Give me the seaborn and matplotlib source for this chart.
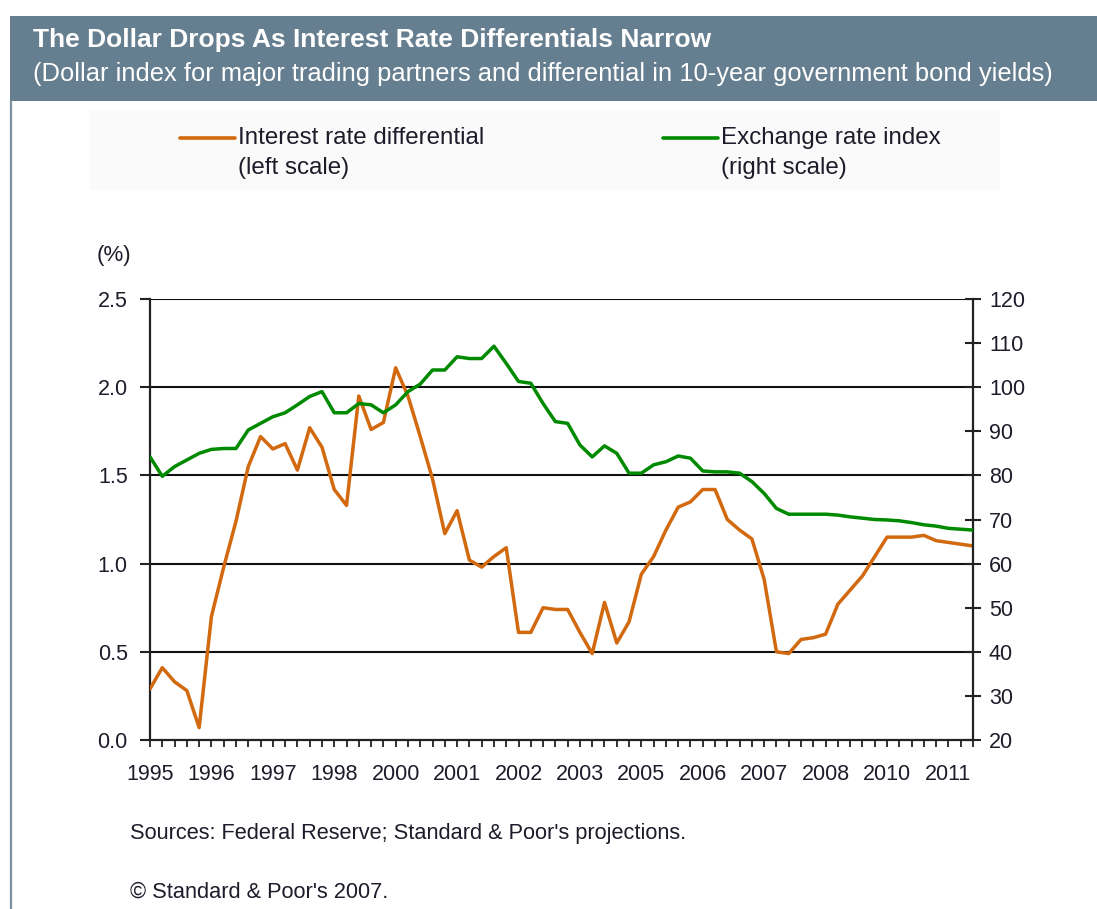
import numpy as np
import matplotlib
matplotlib.use("Agg")
import matplotlib.pyplot as plt
from matplotlib.patches import Rectangle
from matplotlib.lines import Line2D
import seaborn as sns

# ---------------- data (quarterly, 1995Q1 .. 2011Q4) ----------------
year_labels = ["1995", "1996", "1997", "1998", "2000", "2001", "2002",
               "2003", "2005", "2006", "2007", "2008", "2010", "2011"]
label_every = 5  # a year label every 5 quarters

rate_diff = [0.29, 0.41, 0.33, 0.28, 0.07, 0.70, 0.98, 1.24, 1.55, 1.72,
             1.65, 1.68, 1.53, 1.77, 1.66, 1.42, 1.33, 1.95, 1.76, 1.80,
             2.11, 1.95, 1.72, 1.48, 1.17, 1.30, 1.02, 0.98, 1.04, 1.09,
             0.61, 0.61, 0.75, 0.74, 0.74, 0.61, 0.49, 0.78, 0.55, 0.67,
             0.94, 1.04, 1.19, 1.32, 1.35, 1.42, 1.42, 1.25, 1.19, 1.14,
             0.91, 0.50, 0.49, 0.57, 0.58, 0.60, 0.77, 0.85, 0.93, 1.04,
             1.15, 1.15, 1.15, 1.16, 1.13, 1.12, 1.11, 1.10]

fx_index = [84.2, 79.8, 82.0, 83.5, 85.0, 85.9, 86.1, 86.1, 90.3, 91.8,
            93.3, 94.2, 96.0, 97.9, 99.0, 94.2, 94.2, 96.3, 96.0, 94.2,
            96.0, 99.0, 100.7, 103.9, 103.9, 106.9, 106.5, 106.5, 109.3, 105.4,
            101.3, 100.9, 96.3, 92.2, 91.8, 86.9, 84.2, 86.7, 85.0, 80.5,
            80.5, 82.4, 83.1, 84.4, 83.9, 81.0, 80.8, 80.8, 80.5, 78.6,
            75.9, 72.5, 71.2, 71.2, 71.2, 71.2, 71.0, 70.6, 70.3, 70.0,
            69.9, 69.7, 69.3, 68.8, 68.5, 68.0, 67.8, 67.6]

left_ticks = [0.0, 0.5, 1.0, 1.5, 2.0, 2.5]
right_ticks = [20, 30, 40, 50, 60, 70, 80, 90, 100, 110, 120]

title = "The Dollar Drops As Interest Rate Differentials Narrow"
subtitle = "(Dollar index for major trading partners and differential in 10-year government bond yields)"
legend_labels = [("Interest rate differential", "(left scale)"),
                 ("Exchange rate index", "(right scale)")]
source_text = "Sources: Federal Reserve; Standard & Poor's projections."
copyright_text = "\u00a9 Standard & Poor's 2007."

# ---------------- style ----------------
ORANGE = "#D2690E"
GREEN = "#008A00"
HEADER = "#667F90"
TXT = "#1c1c2a"
TICK_FS = 15.5

sns.set_theme(style="white")
plt.rcParams["font.family"] = ["Liberation Sans", "DejaVu Sans"]

W, H = 1097, 909
fig = plt.figure(figsize=(W / 100, H / 100), dpi=100)
fig.patch.set_facecolor("white")

def fx(px):
    return px / W

def fy(py):
    return 1 - py / H

# header band and left border
fig.add_artist(Rectangle((fx(10), fy(101)), fx(1097) - fx(10), fy(16) - fy(101),
                         transform=fig.transFigure, facecolor=HEADER,
                         edgecolor="none", zorder=0))
fig.add_artist(Line2D([fx(11), fx(11)], [fy(101), fy(909)], transform=fig.transFigure,
                      color="#7d909f", lw=1.6))
fig.text(fx(33), fy(40), title, color="white", fontsize=19, fontweight="bold",
         va="center", ha="left")
fig.text(fx(33), fy(74), subtitle, color="white", fontsize=18.4,
         va="center", ha="left")

# legend background
fig.add_artist(Rectangle((fx(90), fy(190)), fx(1000) - fx(90), fy(110) - fy(190),
                         transform=fig.transFigure, facecolor="#FAFAFA",
                         edgecolor="none", zorder=0))

# ---------------- axes ----------------
ax = fig.add_axes([fx(150), fy(740), fx(973) - fx(150), fy(299) - fy(740)])
ax.set_facecolor("white")
x = np.arange(len(rate_diff))

ax.set_ylim(0, 2.5)
ax.set_xlim(0, len(rate_diff) - 1)
ax.set_yticks(left_ticks)
ax.set_yticklabels([f"{v:.1f}" for v in left_ticks])
for v in left_ticks[1:]:
    ax.axhline(v, color="#111111", lw=1.5, zorder=1)

sns.lineplot(x=x, y=rate_diff, ax=ax, color=ORANGE, linewidth=2.5, zorder=3)

ax2 = ax.twinx()
sns.lineplot(x=x, y=fx_index, ax=ax2, color=GREEN, linewidth=2.5, zorder=3)
ax2.set_ylim(20, 120)
ax2.set_yticks(right_ticks)
ax2.set_yticklabels([str(v) for v in right_ticks])
ax2.set_xlim(0, len(rate_diff) - 1)

# x ticks: one per quarter, labels every 5 quarters
ax.set_xticks(x)
xt = [""] * len(x)
for k, lab in enumerate(year_labels):
    xt[k * label_every] = lab
ax.set_xticklabels(xt)

for a in (ax, ax2):
    a.set_xlabel("")
    a.set_ylabel("")
    for s in a.spines.values():
        s.set_visible(False)

ax.spines["left"].set_visible(True)
ax.spines["bottom"].set_visible(True)
ax2.spines["right"].set_visible(True)
for s in (ax.spines["left"], ax.spines["bottom"], ax2.spines["right"]):
    s.set_color("#222222")
    s.set_linewidth(1.6)

ax.tick_params(axis="y", which="major", direction="out", length=7, width=1.5,
               color="#222222", pad=9, labelsize=TICK_FS, labelcolor=TXT,
               left=True, right=False)
ax.tick_params(axis="x", which="major", direction="out", length=5, width=1.3,
               color="#222222", pad=12, labelsize=TICK_FS, labelcolor=TXT,
               bottom=True, top=False)
ax2.tick_params(axis="y", which="major", direction="inout", length=11, width=1.5,
                color="#222222", pad=6, labelsize=TICK_FS, labelcolor=TXT,
                right=True, left=False)
ax2.tick_params(axis="x", bottom=False, top=False, labelbottom=False)
ax.grid(False)
ax2.grid(False)

if ax.get_legend() is not None:
    ax.get_legend().remove()
if ax2.get_legend() is not None:
    ax2.get_legend().remove()

# (%) unit label
fig.text(fx(97), fy(256), "(%)", fontsize=16, color=TXT, va="center", ha="left")

# ---------------- legend (manual) ----------------
leg_items = [(180, 235, 238, ORANGE, legend_labels[0]),
             (663, 718, 721, GREEN, legend_labels[1])]
for x0, x1, tx, col, (l1, l2) in leg_items:
    fig.add_artist(Line2D([fx(x0), fx(x1)], [fy(138), fy(138)],
                          transform=fig.transFigure, color=col, lw=2.6))
    fig.text(fx(tx), fy(138), l1, fontsize=17.4, color=TXT, va="center", ha="left")
    fig.text(fx(tx), fy(168), l2, fontsize=17.4, color=TXT, va="center", ha="left")

# ---------------- footer ----------------
fig.text(fx(130), fy(833), source_text, fontsize=15.7, color=TXT, va="center", ha="left")
fig.text(fx(130), fy(892), copyright_text, fontsize=15.7, color=TXT, va="center", ha="left")

fig.savefig("out.png", dpi=100, facecolor="white")
